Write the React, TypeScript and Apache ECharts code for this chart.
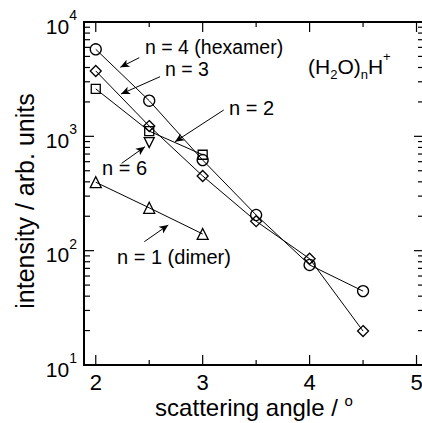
import React, { useEffect, useRef } from 'react';
import * as echarts from 'echarts';

const FONT = '"Liberation Sans", Arial, Helvetica, sans-serif';

// scattering angle (deg) and intensity (arb. units) for (H2O)nH+ clusters
const anglesN1 = [2, 2.5, 3];
const intensityN1 = [397, 237, 140];
const anglesN2 = [2, 2.5, 3];
const intensityN2 = [2600, 1110, 690];
const anglesN3 = [2, 2.5, 3, 3.5, 4, 4.5];
const intensityN3 = [3730, 1230, 450, 181, 85, 19.8];
const anglesN4 = [2, 2.5, 3, 3.5, 4, 4.5];
const intensityN4 = [5770, 2050, 620, 205, 75, 44.3];
const anglesN6 = [2.5];
const intensityN6 = [881];

const xMajorTicks = [2, 3, 4, 5];
const xMinorTicks = [2.5, 3.5, 4.5];
const yMajorTicks = [10, 100, 1000, 10000];
const yMinorTicks = [20, 30, 40, 50, 60, 70, 80, 90, 200, 300, 400, 500, 600, 700, 800, 900, 2000, 3000, 4000, 5000, 6000, 7000, 8000, 9000];

// annotation arrows: [tail, head] in data coordinates
const arrows = [
  [[2.407, 4873], [2.2295, 4017]],
  [[2.601, 3323], [2.236, 2345]],
  [[3.197, 1700], [2.741, 897]],
  [[2.2426, 581], [2.4605, 811]],
  [[2.454, 119.8], [2.678, 167.7]],
];

const annotationTexts = ['n = 4 (hexamer)', 'n = 3', 'n = 2', 'n = 6', 'n = 1 (dimer)'];

const zip = (xs: number[], ys: number[]) => xs.map((x, i) => [x, ys[i]]);

export default function App() {
  const ref = useRef<HTMLDivElement>(null);
  useEffect(() => {
    if (!ref.current) return;
    const chart = echarts.init(ref.current, undefined, { renderer: 'svg' });
    const marker = { color: 'transparent', borderColor: '#000', borderWidth: 1.3 };
    const lineStyle = { color: '#000', width: 1 };
    const mkSeries = (name: string, xs: number[], ys: number[], symbol: string, size: number, extra: any = {}) => ({
      type: 'line',
      name,
      data: zip(xs, ys),
      symbol,
      symbolSize: size,
      showAllSymbol: true,
      itemStyle: marker,
      lineStyle,
      emphasis: { disabled: true },
      silent: true,
      z: 3,
      ...extra,
    });
    const textStyle = { fontFamily: FONT, fill: '#000' };
    const annPos = [
      [145, 47, 19.5],
      [165, 68.5, 19.5],
      [229, 108, 20],
      [102, 168, 20],
      [117, 257, 20],
    ];
    chart.setOption({
      animation: false,
      grid: {
        left: 84,
        right: -2,
        top: 22,
        bottom: 58,
        show: true,
        borderColor: '#000',
        borderWidth: 2,
        backgroundColor: 'transparent',
        outerBoundsMode: 'none',
        containLabel: false,
      },
      xAxis: {
        type: 'value',
        min: 1.89,
        max: 5.07,
        axisLine: { show: false },
        axisTick: { show: false },
        splitLine: { show: false },
        axisLabel: {
          interval: 0,
          margin: 6,
          color: '#000',
          fontSize: 22,
          fontFamily: FONT,
          formatter: (v: number) => (Math.abs(v - Math.round(v)) < 1e-6 ? String(Math.round(v)) : ''),
        },
        name: '{m|scattering angle / }{s|o}',
        nameLocation: 'middle',
        nameGap: 28,
        nameMoveOverlap: false,
        nameTextStyle: {
          rich: {
            m: { fontSize: 24, fontFamily: FONT, color: '#000', verticalAlign: 'middle' },
            s: { fontSize: 15, fontFamily: FONT, color: '#000', verticalAlign: 'middle', padding: [0, 0, 14, 0] },
          },
        },
      },
      yAxis: {
        type: 'log',
        logBase: 10,
        min: 10,
        max: 10000,
        axisLine: { show: false },
        axisTick: { show: false },
        splitLine: { show: false },
        axisLabel: {
          margin: 7,
          formatter: (v: number) => `{b|10}{s|${Math.round(Math.log10(v))}}`,
          rich: {
            b: { fontSize: 21, fontFamily: FONT, color: '#000', verticalAlign: 'middle', padding: [8, 0, 0, 0] },
            s: { fontSize: 14, fontFamily: FONT, color: '#000', verticalAlign: 'middle', padding: [0, 0, 14, 0] },
          },
        },
        name: 'intensity / arb. units',
        nameLocation: 'middle',
        nameGap: 47,
        nameMoveOverlap: false,
        nameTextStyle: { fontSize: 25, fontFamily: FONT, color: '#000', padding: [0, 15, 0, 0] },
      },
      series: [
        {
          type: 'custom',
          silent: true,
          clip: false,
          data: [[3, 100]],
          z: 5,
          renderItem: (params: any, api: any) => {
            const cs = params.coordSys;
            const left = cs.x;
            const right = cs.x + cs.width;
            const top = cs.y;
            const bottom = cs.y + cs.height;
            const style = { stroke: '#000', lineWidth: 1.2 };
            const children: any[] = [];
            const addX = (v: number, len: number) => {
              const px = api.coord([v, 100])[0];
              children.push({ type: 'line', shape: { x1: px, y1: bottom, x2: px, y2: bottom - len }, style });
              children.push({ type: 'line', shape: { x1: px, y1: top, x2: px, y2: top + len }, style });
            };
            const addY = (v: number, len: number) => {
              const py = api.coord([3, v])[1];
              children.push({ type: 'line', shape: { x1: left, y1: py, x2: left + len, y2: py }, style });
              children.push({ type: 'line', shape: { x1: right, y1: py, x2: right - len, y2: py }, style });
            };
            xMajorTicks.forEach((v) => addX(v, 10));
            xMinorTicks.forEach((v) => addX(v, 5));
            yMajorTicks.forEach((v) => addY(v, 10));
            yMinorTicks.forEach((v) => addY(v, 6));
            return { type: 'group', children };
          },
        },
        mkSeries('n = 1', anglesN1, intensityN1, 'triangle', 11, {
          markLine: {
            silent: true,
            symbol: ['none', 'arrow'],
            symbolSize: [6, 9],
            label: { show: false },
            emphasis: { disabled: true },
            lineStyle: { color: '#000', width: 1, type: 'solid' },
            data: arrows.map(([a, b]) => [{ coord: a }, { coord: b }]),
          },
        }),
        mkSeries('n = 2', anglesN2, intensityN2, 'rect', 9),
        mkSeries('n = 3', anglesN3, intensityN3, 'diamond', 11),
        mkSeries('n = 4', anglesN4, intensityN4, 'circle', 11),
        mkSeries('n = 6', anglesN6, intensityN6, 'triangle', 10, { symbolRotate: 180 }),
      ],
      graphic: [
        ...annotationTexts.map((t, i) => ({
          type: 'text',
          x: annPos[i][0],
          y: annPos[i][1],
          silent: true,
          style: { ...textStyle, text: t, fontSize: annPos[i][2], align: 'left', verticalAlign: 'middle' },
        })),
        {
          type: 'text',
          x: 308,
          y: 66,
          silent: true,
          style: {
            ...textStyle,
            text: '{m|(H}{d|2}{m|O)}{d|n}{m|H}{u|+}',
            align: 'left',
            verticalAlign: 'middle',
            rich: {
              m: { fontSize: 21, fontFamily: FONT, fill: '#000', verticalAlign: 'middle' },
              d: { fontSize: 13, fontFamily: FONT, fill: '#000', verticalAlign: 'middle', padding: [16, 0, 0, 0] },
              u: { fontSize: 13, fontFamily: FONT, fill: '#000', verticalAlign: 'middle', padding: [0, 0, 20, 0] },
            },
          },
        },
      ],
    });
    return () => chart.dispose();
  }, []);
  return <div ref={ref} style={{ width: 422, height: 423, position: 'absolute', left: 0, top: 0 }} />;
}
